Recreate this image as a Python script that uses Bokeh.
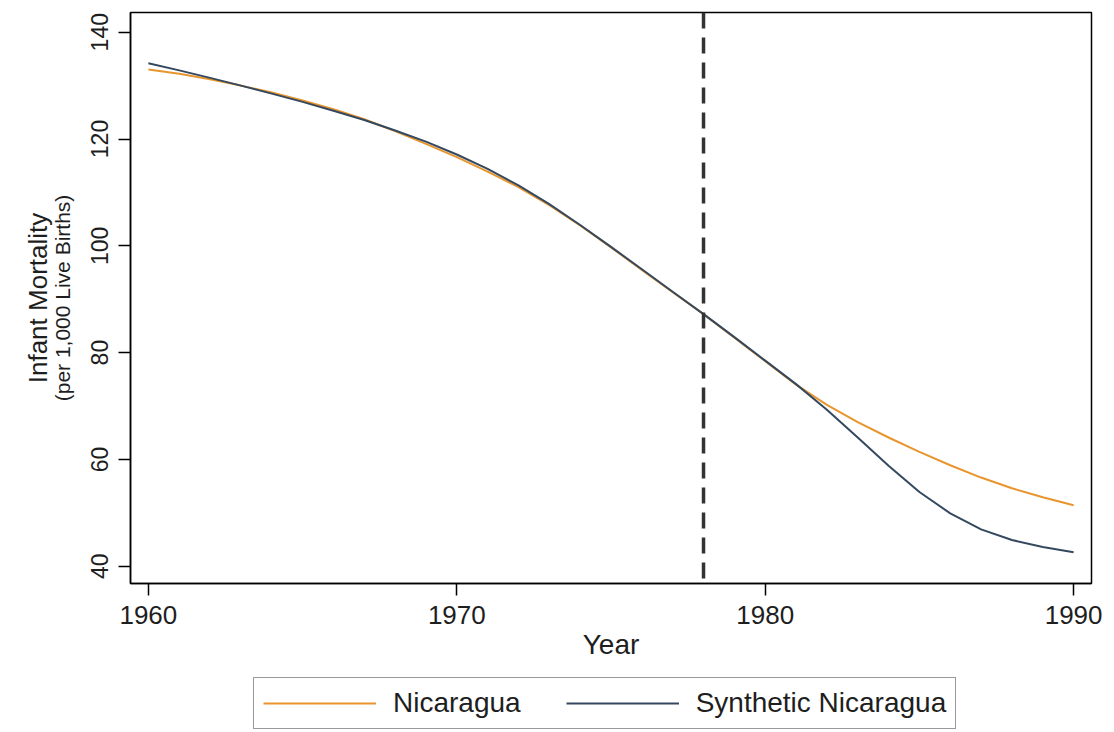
from bokeh.plotting import figure
from bokeh.layouts import column
from bokeh.models import Range1d, FixedTicker, Legend, LegendItem, Span, Title
from bokeh.embed import file_html
from bokeh.resources import INLINE

# Infant mortality per 1,000 live births, 1960-1990
years = list(range(1960, 1991))
nicaragua = [133.0, 132.2, 131.2, 130.0, 128.7, 127.2, 125.6, 123.7, 121.5, 119.1,
             116.6, 113.9, 111.0, 107.6, 103.8, 99.7, 95.5, 91.3, 87.2, 82.8,
             78.4, 74.0, 70.2, 67.0, 64.1, 61.4, 58.9, 56.6, 54.6, 52.9, 51.4]
synthetic = [134.2, 132.85, 131.45, 130.0, 128.5, 126.95, 125.3, 123.55, 121.6, 119.5,
             117.1, 114.4, 111.3, 107.8, 103.9, 99.8, 95.6, 91.4, 87.2, 82.9,
             78.5, 74.1, 69.3, 64.1, 58.8, 53.9, 49.9, 46.9, 44.9, 43.6, 42.6]
series_labels = ["Nicaragua", "Synthetic Nicaragua"]
treatment_year = 1978
x_ticks = [1960, 1970, 1980, 1990]
y_ticks = [40, 60, 80, 100, 120, 140]

FONT = "Liberation Sans"
TEXT = "#1e1e1e"
ORANGE = "#E8952E"
SLATE = "#34495F"

# ---- main chart -------------------------------------------------------------
p = figure(frame_width=961, frame_height=571, output_backend="svg", toolbar_location=None,
           x_range=Range1d(1959.42, 1990.58), y_range=Range1d(36.76, 143.69),
           min_border_left=130, min_border_right=23, min_border_top=12,
           min_border_bottom=94)

p.background_fill_color = "white"
p.border_fill_color = "white"
p.outline_line_color = "black"
p.outline_line_width = 1.5
p.xgrid.visible = False
p.ygrid.visible = False

p.line(years, nicaragua, line_color=ORANGE, line_width=2)
p.line(years, synthetic, line_color=SLATE, line_width=2)

p.add_layout(Span(location=treatment_year, dimension="height", line_color="#333333",
                  line_width=3.5, line_dash="16 9"))

for ax in (p.xaxis[0], p.yaxis[0]):
    ax.axis_line_color = "black"
    ax.axis_line_width = 1.5
    ax.major_tick_line_color = "black"
    ax.major_tick_line_width = 1.5
    ax.major_tick_out = 12
    ax.major_tick_in = 0
    ax.minor_tick_line_color = None
    ax.major_label_text_font = FONT
    ax.major_label_text_color = TEXT
    ax.axis_label_text_font = FONT
    ax.axis_label_text_font_style = "normal"
    ax.axis_label_text_color = TEXT

p.xaxis.ticker = FixedTicker(ticks=x_ticks)
p.xaxis.major_label_text_font_size = "26px"
p.xaxis.major_label_standoff = 10
p.xaxis.axis_label = "Year"
p.xaxis.axis_label_text_font_size = "28px"
p.xaxis.axis_label_standoff = 2

p.yaxis.ticker = FixedTicker(ticks=y_ticks)
p.yaxis.major_label_text_font_size = "23px"
p.yaxis.major_label_orientation = "vertical"
p.yaxis.major_label_standoff = 10
# unit line next to the axis, main title outside it
p.yaxis.axis_label = "(per 1,000 Live Births)"
p.yaxis.axis_label_text_font_size = "21px"
p.yaxis.axis_label_standoff = 15
p.add_layout(Title(text="Infant Mortality", align="center", text_font=FONT,
                   text_font_size="26px", text_font_style="normal",
                   text_color=TEXT, standoff=-10), "left")

# ---- legend strip below the chart ------------------------------------------
# the key lines reuse the series but fall outside this strip's ranges,
# so only their legend samples are visible
lg = figure(width=1114, height=55, output_backend="svg", toolbar_location=None,
            x_range=Range1d(0, 1), y_range=Range1d(0, 1),
            x_axis_type=None, y_axis_type=None, min_border=0)
lg.outline_line_color = None
lg.xgrid.visible = False
lg.ygrid.visible = False
key_nic = lg.line(years, nicaragua, line_color=ORANGE, line_width=2)
key_syn = lg.line(years, synthetic, line_color=SLATE, line_width=2)

legend = Legend(items=[LegendItem(label=series_labels[0], renderers=[key_nic]),
                       LegendItem(label=series_labels[1], renderers=[key_syn])],
                orientation="horizontal", location=(123, 3),
                glyph_width=113, glyph_height=20, label_standoff=17, spacing=45,
                padding=9, margin=0,
                border_line_color="#333333", border_line_width=1.5,
                label_text_font=FONT, label_text_font_size="28px",
                label_text_color=TEXT, background_fill_color="white")
lg.add_layout(legend)

page = column(p, lg, spacing=0)
open("out.html", "w").write(file_html(page, INLINE))
